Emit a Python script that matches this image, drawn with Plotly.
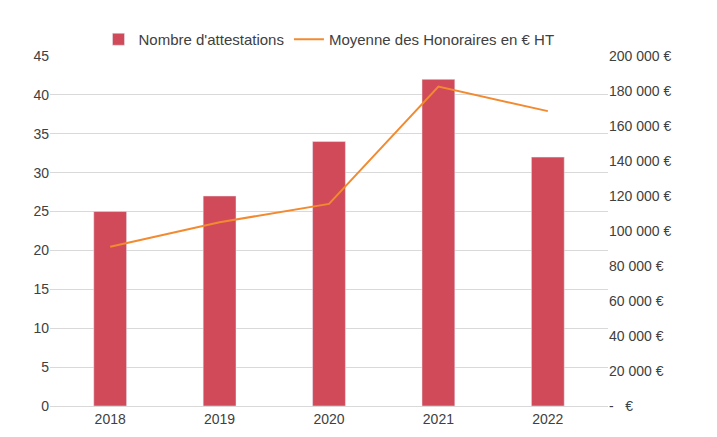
import plotly.graph_objects as go

years = ["2018", "2019", "2020", "2021", "2022"]
attestations = [25, 27, 34, 42, 32]
honoraires = [91000, 105000, 115500, 182500, 168500]

left_ticks = list(range(0, 50, 5))
right_ticks = list(range(0, 220000, 20000))
right_labels = ["-   €"] + [f"{v // 1000} 000 €" for v in right_ticks[1:]]

fig = go.Figure()
fig.add_trace(go.Bar(x=years, y=attestations, name="Nombre d'attestations",
                     marker_color="#d04a5a", width=0.3))
fig.add_trace(go.Scatter(x=years, y=honoraires, name="Moyenne des Honoraires en € HT",
                         mode="lines", line=dict(color="#f28a30", width=2), yaxis="y2"))

fig.update_layout(
    width=717, height=437,
    margin=dict(l=42, r=117, t=48, b=39, autoexpand=False),
    paper_bgcolor="white", plot_bgcolor="white",
    font=dict(family="Liberation Sans", size=14, color="#404040"),
    legend=dict(orientation="h", x=0.5, xanchor="center", y=1.0, yanchor="bottom",
                font=dict(size=15)),
    xaxis=dict(showgrid=False, showline=True, linecolor="#d9d9d9", ticks="",
               range=[-0.55, 4.55]),
    yaxis=dict(range=[0, 45], tickvals=left_ticks, gridcolor="#d9d9d9",
               zeroline=False, ticks=""),
    yaxis2=dict(range=[0, 200000], tickvals=right_ticks, ticktext=right_labels,
                overlaying="y", side="right", showgrid=False, zeroline=False),
    bargap=0.7,
)

fig.write_html("out.html")
